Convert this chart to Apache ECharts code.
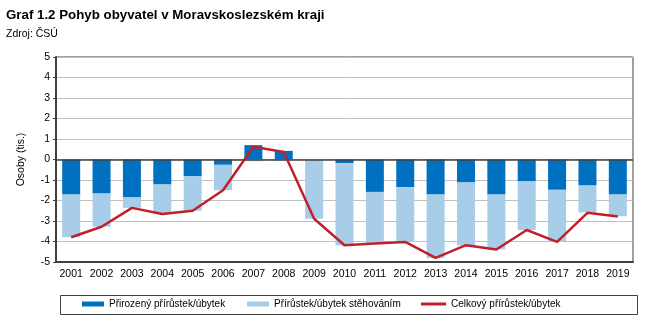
<!DOCTYPE html>
<html><head><meta charset="utf-8">
<script src="https://cdn.jsdelivr.net/npm/echarts@6/dist/echarts.min.js"></script>
<style>html,body{margin:0;padding:0;background:#fff}#c{width:646px;height:329px}</style>
</head><body><div id="c"></div>
<script>
var years = ['2001','2002','2003','2004','2005','2006','2007','2008','2009','2010','2011','2012','2013','2014','2015','2016','2017','2018','2019'];
var natural = [-1.71,-1.66,-1.85,-1.22,-0.81,-0.26,0.70,0.42,0.0,-0.18,-1.58,-1.35,-1.71,-1.12,-1.71,-1.07,-1.48,-1.27,-1.71];
var migration = [-2.08,-1.62,-0.51,-1.42,-1.69,-1.24,-0.08,-0.05,-2.89,-4.00,-2.50,-2.67,-3.09,-3.07,-2.68,-2.37,-2.54,-1.31,-1.06];
var total = [-3.79,-3.28,-2.36,-2.66,-2.50,-1.50,0.62,0.37,-2.89,-4.18,-4.10,-4.02,-4.80,-4.18,-4.39,-3.44,-4.02,-2.60,-2.78];
var yTicks = [-5,-4,-3,-2,-1,0,1,2,3,4,5];
var names = ['Přirozený přírůstek/úbytek','Přírůstek/úbytek stěhováním','Celkový přírůstek/úbytek'];

var F = 'Liberation Sans, Arial, sans-serif';
var chart = echarts.init(document.getElementById('c'));
var legendBase = {orient:'horizontal', top:294, itemWidth:22, itemHeight:5, itemGap:0,
  textStyle:{fontFamily:F, fontSize:10, color:'#000'}, selectedMode:false};
chart.setOption({
  animation:false,
  title:[
    {text:'Graf 1.2 Pohyb obyvatel v Moravskoslezském kraji', left:1, top:4,
     textStyle:{fontFamily:F, fontSize:13.3, fontWeight:'bold', color:'#000'}},
    {text:'Zdroj: ČSÚ', left:1, top:24, textStyle:{fontFamily:F, fontSize:10.5, fontWeight:'normal', color:'#000'}}
  ],
  legend:[
    Object.assign({}, legendBase, {left:77, data:[{name:names[0], icon:'rect'}]}),
    Object.assign({}, legendBase, {left:242, data:[{name:names[1], icon:'rect'}]}),
    Object.assign({}, legendBase, {left:416, itemWidth:25, itemHeight:3, data:[{name:names[2], icon:'rect'}]})
  ],
  graphic:[{type:'rect', shape:{x:60.5, y:295.5, width:577, height:19},
    style:{fill:'none', stroke:'#404040', lineWidth:1}, silent:true}],
  grid:{left:56, right:13, top:57, bottom:67, show:true, borderColor:'#404040', borderWidth:1, backgroundColor:'transparent'},
  xAxis:{type:'category', data:years, axisTick:{show:false},
    axisLine:{onZero:false, lineStyle:{color:'#404040', width:2}},
    axisLabel:{fontFamily:F, fontSize:10.5, color:'#000', margin:7, interval:0}},
  yAxis:{type:'value', min:-5, max:5, interval:1,
    name:'Osoby (tis.)', nameLocation:'middle', nameGap:29, nameRotate:90,
    nameTextStyle:{fontFamily:F, fontSize:10.5, color:'#000'},
    axisLine:{show:true, lineStyle:{color:'#404040', width:2}},
    axisTick:{show:true, length:3, lineStyle:{color:'#404040'}},
    axisLabel:{fontFamily:F, fontSize:10.5, color:'#000', margin:6,
      formatter:function(v){return yTicks.indexOf(v)>=0 ? String(v) : '';}},
    splitLine:{lineStyle:{color:'#c0c0c0', width:1}}},
  series:[
    {name:names[0], type:'bar', stack:'a', data:natural, barWidth:18, itemStyle:{color:'#0070C0'},
     markLine:{silent:true, symbol:'none', label:{show:false}, lineStyle:{color:'#404040', type:'solid', width:1.5},
       data:[{yAxis:0}]}},
    {name:names[1], type:'bar', stack:'a', data:migration, barWidth:18, itemStyle:{color:'#A7CDE9'}},
    {name:names[2], type:'line', data:total, symbol:'none', z:5, lineStyle:{color:'#C0202A', width:2.5}, itemStyle:{color:'#C0202A'}}
  ]
});
</script></body></html>
